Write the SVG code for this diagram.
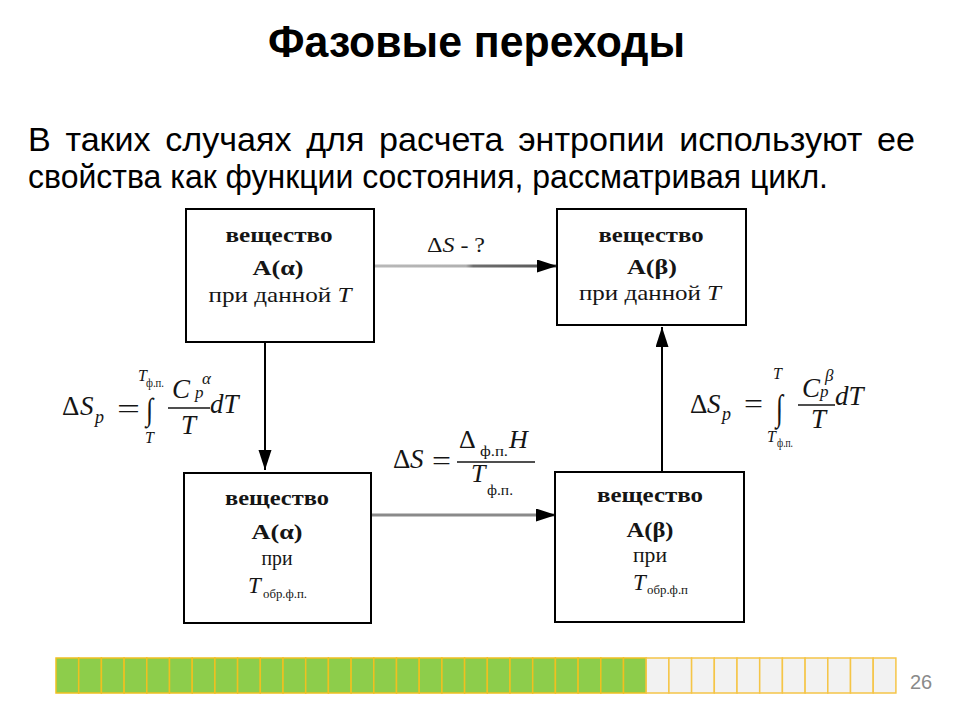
<svg xmlns="http://www.w3.org/2000/svg" width="960" height="720" viewBox="0 0 960 720">
<defs>
<style>
.title{font-family:"Liberation Sans",Arial,sans-serif;font-weight:bold;font-size:45px;fill:#000}
.body{font-family:"Liberation Sans",Arial,sans-serif;font-size:33px;fill:#000}
.box{fill:#fff;stroke:#000;stroke-width:2}
.bt{font-family:"Liberation Serif","Times New Roman",serif;font-size:21px;fill:#151515;text-anchor:middle}
.b{font-weight:bold}
.i{font-style:italic}
.m{font-family:"Liberation Serif","Times New Roman",serif;fill:#151515}
.g{fill:#8dcd4b;stroke:#f0c020;stroke-width:1.5}
.e{fill:#f2f2f2;stroke:#f5c548;stroke-width:1.5}
.pn{font-family:"Liberation Sans",Arial,sans-serif;font-size:20px;fill:#8a8a8a}
</style>
<linearGradient id="gTop" gradientUnits="userSpaceOnUse" x1="375" y1="0" x2="557" y2="0">
<stop offset="0" stop-color="#b8b8b8"/>
<stop offset="0.5" stop-color="#b0b0b0"/>
<stop offset="0.54" stop-color="#6e6e6e"/>
<stop offset="1" stop-color="#555"/>
</linearGradient>
<marker id="ah" markerUnits="userSpaceOnUse" markerWidth="22" markerHeight="14" refX="20" refY="6.5" orient="auto">
<path d="M0,0 L20,6.5 L0,13 Z" fill="#000"/>
</marker>
</defs>

<text class="title" x="268" y="57" textLength="417" lengthAdjust="spacingAndGlyphs">Фазовые переходы</text>
<text class="body" x="28" y="151" word-spacing="5" textLength="887" lengthAdjust="spacingAndGlyphs">В таких случаях для расчета энтропии используют ее</text>
<text class="body" x="28" y="188" textLength="800" lengthAdjust="spacingAndGlyphs">свойства как функции состояния, рассматривая цикл.</text>

<g id="connectors">
<line x1="375" y1="266" x2="557" y2="266" stroke="url(#gTop)" stroke-width="3" marker-end="url(#ah)"/>
<line x1="265" y1="342" x2="265" y2="470" stroke="#000" stroke-width="2" marker-end="url(#ah)"/>
<line x1="372" y1="515" x2="556" y2="515" stroke="#8a8a8a" stroke-width="3" marker-end="url(#ah)"/>
<line x1="662" y1="472" x2="662" y2="327" stroke="#000" stroke-width="2" marker-end="url(#ah)"/>
<text class="m" x="427" y="252" font-size="22" textLength="58" lengthAdjust="spacingAndGlyphs"><tspan>Δ</tspan><tspan class="i">S</tspan><tspan> - ?</tspan></text>
</g>

<g id="node-a-alpha-T">
<rect class="box" x="186" y="209" width="188" height="133"/>
<text class="bt b" x="279" y="242" textLength="107" lengthAdjust="spacingAndGlyphs">вещество</text>
<text class="bt b" x="278" y="275" textLength="51" lengthAdjust="spacingAndGlyphs">A(α)</text>
<text class="bt" x="280" y="302" textLength="143" lengthAdjust="spacingAndGlyphs">при данной <tspan class="i">T</tspan></text>
</g>

<g id="node-a-beta-T">
<rect class="box" x="557" y="209" width="189" height="116"/>
<text class="bt b" x="651" y="242" textLength="105" lengthAdjust="spacingAndGlyphs">вещество</text>
<text class="bt b" x="652" y="274" textLength="50" lengthAdjust="spacingAndGlyphs">A(β)</text>
<text class="bt" x="650" y="300" textLength="142" lengthAdjust="spacingAndGlyphs">при данной <tspan class="i">T</tspan></text>
</g>

<g id="node-a-alpha-Tpt">
<rect class="box" x="184" y="473" width="187" height="150"/>
<text class="bt b" x="277" y="505" textLength="104" lengthAdjust="spacingAndGlyphs">вещество</text>
<text class="bt b" x="277" y="539" textLength="51" lengthAdjust="spacingAndGlyphs">A(α)</text>
<text class="bt" x="277" y="565" textLength="31" lengthAdjust="spacingAndGlyphs">при</text>
<text class="m i" x="248" y="593" font-size="23">T</text>
<text class="m" x="263" y="598" font-size="13" textLength="44" lengthAdjust="spacingAndGlyphs">обр.ф.п.</text>
</g>

<g id="node-a-beta-Tpt">
<rect class="box" x="555" y="472" width="189" height="150"/>
<text class="bt b" x="650" y="502" textLength="106" lengthAdjust="spacingAndGlyphs">вещество</text>
<text class="bt b" x="650" y="537" textLength="47" lengthAdjust="spacingAndGlyphs">A(β)</text>
<text class="bt" x="650" y="562" textLength="34" lengthAdjust="spacingAndGlyphs">при</text>
<text class="m i" x="633" y="590" font-size="23">T</text>
<text class="m" x="647" y="594" font-size="13" textLength="41" lengthAdjust="spacingAndGlyphs">обр.ф.п</text>
</g>

<g id="formula-left">
<text class="m" x="62" y="415" font-size="27">Δ</text>
<text class="m i" x="80" y="415" font-size="27">S</text>
<text class="m i" x="95" y="423" font-size="18">p</text>
<text class="m" x="117" y="418" font-size="27" textLength="23" lengthAdjust="spacingAndGlyphs">=</text>
<text class="m" font-size="26" transform="translate(146,420) scale(1,1.2)">∫</text>
<text class="m i" x="138" y="381" font-size="16">T</text>
<text class="m" x="146" y="387" font-size="12" textLength="18" lengthAdjust="spacingAndGlyphs">ф.п.</text>
<text class="m i" x="145" y="443" font-size="16">T</text>
<text class="m i" x="172" y="398" font-size="27">C</text>
<text class="m i" x="202" y="384" font-size="17">α</text>
<text class="m i" x="195" y="398" font-size="17">p</text>
<line x1="168" y1="408" x2="210" y2="408" stroke="#151515" stroke-width="1.3"/>
<text class="m i" x="181" y="434" font-size="27">T</text>
<text class="m i" x="210" y="413" font-size="27">dT</text>
</g>

<g id="formula-right">
<text class="m" x="690" y="413" font-size="27">Δ</text>
<text class="m i" x="707" y="413" font-size="27">S</text>
<text class="m i" x="722" y="420" font-size="18">p</text>
<text class="m" x="744" y="413" font-size="27" textLength="19" lengthAdjust="spacingAndGlyphs">=</text>
<text class="m" font-size="26" transform="translate(776,420) scale(1,1.4)">∫</text>
<text class="m i" x="773" y="379" font-size="16">T</text>
<text class="m i" x="767" y="442" font-size="16">T</text>
<text class="m" x="777" y="447" font-size="12" textLength="16" lengthAdjust="spacingAndGlyphs">ф.п.</text>
<text class="m i" x="802" y="397" font-size="27">C</text>
<text class="m i" x="825" y="381" font-size="17">β</text>
<text class="m i" x="820" y="397" font-size="17">p</text>
<line x1="798" y1="405" x2="835" y2="405" stroke="#151515" stroke-width="1.3"/>
<text class="m i" x="811" y="428" font-size="27">T</text>
<text class="m i" x="835" y="405" font-size="27">dT</text>
</g>

<g id="formula-middle">
<text class="m" x="393" y="468" font-size="27">Δ</text>
<text class="m i" x="410" y="468" font-size="27">S</text>
<text class="m" x="432" y="470" font-size="27" textLength="19" lengthAdjust="spacingAndGlyphs">=</text>
<line x1="457" y1="462" x2="535" y2="462" stroke="#151515" stroke-width="1.3"/>
<text class="m" x="459" y="448" font-size="26">Δ</text>
<text class="m" x="480" y="456" font-size="15" textLength="28" lengthAdjust="spacingAndGlyphs">ф.п.</text>
<text class="m i" x="509" y="448" font-size="26">H</text>
<text class="m i" x="471" y="482" font-size="26">T</text>
<text class="m" x="487" y="495" font-size="15" textLength="26" lengthAdjust="spacingAndGlyphs">ф.п.</text>
</g>

<g id="progress">
<rect class="g" x="56" y="658" width="22.7" height="35"/>
<rect class="g" x="78.7" y="658" width="22.7" height="35"/>
<rect class="g" x="101.4" y="658" width="22.7" height="35"/>
<rect class="g" x="124.1" y="658" width="22.7" height="35"/>
<rect class="g" x="146.8" y="658" width="22.7" height="35"/>
<rect class="g" x="169.5" y="658" width="22.7" height="35"/>
<rect class="g" x="192.2" y="658" width="22.7" height="35"/>
<rect class="g" x="214.9" y="658" width="22.7" height="35"/>
<rect class="g" x="237.6" y="658" width="22.7" height="35"/>
<rect class="g" x="260.3" y="658" width="22.7" height="35"/>
<rect class="g" x="283" y="658" width="22.7" height="35"/>
<rect class="g" x="305.7" y="658" width="22.7" height="35"/>
<rect class="g" x="328.4" y="658" width="22.7" height="35"/>
<rect class="g" x="351.1" y="658" width="22.7" height="35"/>
<rect class="g" x="373.8" y="658" width="22.7" height="35"/>
<rect class="g" x="396.5" y="658" width="22.7" height="35"/>
<rect class="g" x="419.2" y="658" width="22.7" height="35"/>
<rect class="g" x="441.9" y="658" width="22.7" height="35"/>
<rect class="g" x="464.6" y="658" width="22.7" height="35"/>
<rect class="g" x="487.3" y="658" width="22.7" height="35"/>
<rect class="g" x="510" y="658" width="22.7" height="35"/>
<rect class="g" x="532.7" y="658" width="22.7" height="35"/>
<rect class="g" x="555.4" y="658" width="22.7" height="35"/>
<rect class="g" x="578.1" y="658" width="22.7" height="35"/>
<rect class="g" x="600.8" y="658" width="22.7" height="35"/>
<rect class="g" x="623.5" y="658" width="22.7" height="35"/>
<rect class="e" x="646.2" y="658" width="22.7" height="35"/>
<rect class="e" x="668.9" y="658" width="22.7" height="35"/>
<rect class="e" x="691.6" y="658" width="22.7" height="35"/>
<rect class="e" x="714.3" y="658" width="22.7" height="35"/>
<rect class="e" x="737" y="658" width="22.7" height="35"/>
<rect class="e" x="759.7" y="658" width="22.7" height="35"/>
<rect class="e" x="782.4" y="658" width="22.7" height="35"/>
<rect class="e" x="805.1" y="658" width="22.7" height="35"/>
<rect class="e" x="827.8" y="658" width="22.7" height="35"/>
<rect class="e" x="850.5" y="658" width="22.7" height="35"/>
<rect class="e" x="873.2" y="658" width="22.7" height="35"/>
</g>
<text class="pn" x="910" y="689">26</text>
</svg>
